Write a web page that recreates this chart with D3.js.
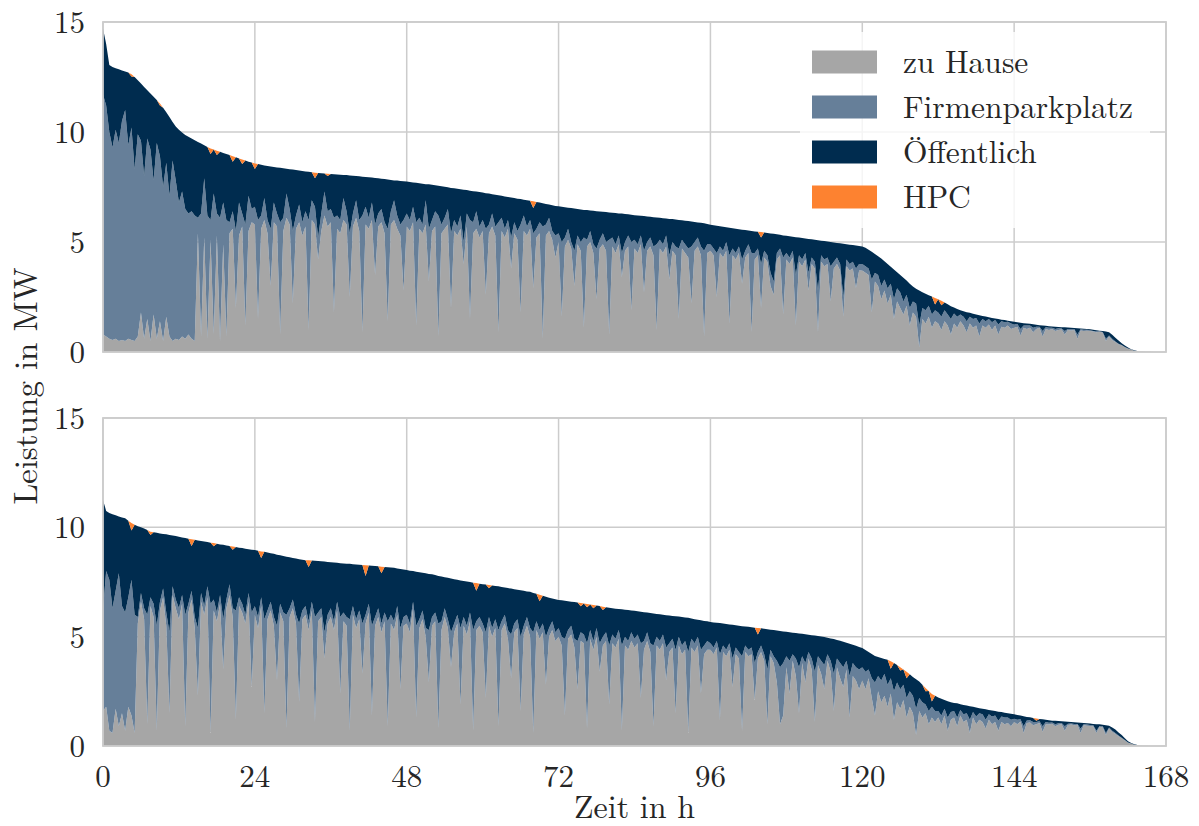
<!DOCTYPE html>
<html>
<head>
<meta charset="utf-8">
<script src="https://cdn.jsdelivr.net/npm/d3@7/dist/d3.min.js"></script>
<style>
  body { margin: 0; background: #fff; }
</style>
</head>
<body>
<svg id="chart" width="1199" height="826"></svg>
<script>
// Ladeprofile (geordnete Dauerlinie) je Ladeort, Auflösung 0,5 h, 0 … 168 h
const kategorien = ["zu Hause", "Firmenparkplatz", "Öffentlich", "HPC"];
const farben = ["#a6a6a6", "#667f99", "#002c4f", "#fd8230"];
const xTicks = [0, 24, 48, 72, 96, 120, 144, 168];
const yTicks = [0, 5, 10, 15];
const schritt = 0.5;
const schrift = "'Latin Modern Roman', 'Liberation Serif', serif";

// ---- oberes Diagramm ----
const gesamtOben = [
  14.7, 14.0, 13.05, 12.95, 12.9, 12.85, 12.8, 12.75, 12.7, 12.62, 12.5, 12.35, 12.2, 12.05, 11.9, 11.75, 11.6, 11.45, 11.3, 11.1, 10.9, 10.68, 10.45, 10.25,
  10.1, 9.98, 9.86, 9.78, 9.7, 9.62, 9.55, 9.48, 9.4, 9.32, 9.25, 9.2, 9.15, 9.1, 9.05, 9.0, 8.95, 8.9, 8.85, 8.8, 8.75, 8.7, 8.65, 8.61,
  8.57, 8.54, 8.51, 8.48, 8.45, 8.43, 8.41, 8.39, 8.37, 8.35, 8.33, 8.31, 8.29, 8.27, 8.25, 8.23, 8.21, 8.19, 8.17, 8.15, 8.14, 8.12, 8.11, 8.1,
  8.09, 8.08, 8.07, 8.06, 8.05, 8.04, 8.02, 8.01, 8.0, 7.99, 7.97, 7.96, 7.94, 7.93, 7.91, 7.9, 7.88, 7.86, 7.84, 7.82, 7.8, 7.79, 7.77, 7.76,
  7.75, 7.73, 7.71, 7.69, 7.67, 7.65, 7.63, 7.62, 7.6, 7.58, 7.56, 7.53, 7.51, 7.49, 7.46, 7.44, 7.42, 7.4, 7.38, 7.36, 7.33, 7.31, 7.29, 7.27,
  7.25, 7.22, 7.2, 7.17, 7.15, 7.12, 7.1, 7.07, 7.05, 7.02, 7.0, 6.97, 6.95, 6.92, 6.9, 6.87, 6.85, 6.82, 6.79, 6.76, 6.73, 6.7, 6.67, 6.64,
  6.62, 6.6, 6.58, 6.56, 6.54, 6.52, 6.5, 6.48, 6.46, 6.45, 6.43, 6.42, 6.4, 6.39, 6.37, 6.36, 6.34, 6.33, 6.32, 6.3, 6.29, 6.27, 6.26, 6.24,
  6.22, 6.21, 6.19, 6.18, 6.16, 6.15, 6.13, 6.11, 6.1, 6.08, 6.07, 6.05, 6.04, 6.02, 6.0, 5.99, 5.97, 5.95, 5.93, 5.91, 5.89, 5.87, 5.85, 5.82,
  5.78, 5.76, 5.74, 5.72, 5.69, 5.67, 5.65, 5.63, 5.6, 5.58, 5.56, 5.54, 5.52, 5.5, 5.48, 5.47, 5.45, 5.43, 5.41, 5.39, 5.37, 5.35, 5.33, 5.3,
  5.28, 5.26, 5.24, 5.22, 5.2, 5.18, 5.16, 5.14, 5.12, 5.1, 5.08, 5.06, 5.04, 5.02, 5.0, 4.98, 4.96, 4.94, 4.92, 4.9, 4.88, 4.86, 4.84, 4.82,
  4.8, 4.74, 4.65, 4.56, 4.45, 4.35, 4.25, 4.12, 4.0, 3.88, 3.75, 3.62, 3.5, 3.38, 3.25, 3.1, 2.98, 2.88, 2.8, 2.72, 2.65, 2.58, 2.52, 2.46,
  2.4, 2.33, 2.25, 2.17, 2.08, 2.02, 1.95, 1.9, 1.85, 1.81, 1.78, 1.74, 1.7, 1.67, 1.64, 1.61, 1.58, 1.55, 1.52, 1.5, 1.47, 1.45, 1.42, 1.4,
  1.37, 1.35, 1.33, 1.31, 1.3, 1.28, 1.26, 1.24, 1.22, 1.2, 1.19, 1.17, 1.16, 1.15, 1.14, 1.13, 1.12, 1.11, 1.1, 1.09, 1.08, 1.07, 1.06, 1.05,
  1.03, 1.01, 0.99, 0.97, 0.96, 0.93, 0.9, 0.78, 0.65, 0.52, 0.4, 0.3, 0.2, 0.13, 0.08, 0.05, 0.03, 0.02, 0.01, 0.01, 0, 0, 0, 0,
  0
];
const zuHauseOben = [
  0.8, 0.7, 0.6, 0.55, 0.6, 0.5, 0.55, 0.5, 0.6, 0.55, 0.5, 0.7, 1.8, 0.6, 1.5, 0.5, 1.7, 0.6, 1.4, 0.5, 1.6, 0.7, 0.5, 0.6,
  0.55, 0.7, 0.6, 0.8, 0.6, 0.5, 5.4, 0.7, 5.2, 0.6, 5.1, 0.8, 5.3, 0.5, 4.9, 0.7, 5.4, 5.6, 2.0, 5.3, 5.7, 1.2, 5.5, 5.9,
  5.8, 1.5, 5.6, 6.0, 5.4, 3.0, 5.9, 5.7, 0.8, 5.5, 6.1, 5.8, 2.2, 5.6, 5.9, 5.3, 5.7, 1.0, 6.0, 5.8, 4.2, 5.5, 6.2, 5.7,
  5.9, 1.8, 5.6, 5.4, 6.0, 5.8, 2.5, 5.7, 6.1, 5.5, 0.9, 5.8, 5.6, 6.0, 3.5, 5.7, 5.9, 5.4, 1.4, 5.8, 6.0, 5.6, 5.3, 2.8,
  5.7, 5.5, 5.9, 1.2, 5.6, 5.4, 5.8, 3.2, 5.5, 5.7, 0.7, 5.4, 5.6, 5.8, 2.0, 5.5, 5.3, 5.6, 4.0, 5.7, 1.5, 5.4, 5.6, 5.2,
  5.5, 2.6, 5.4, 5.7, 5.3, 0.9, 5.5, 5.2, 5.6, 3.8, 5.4, 5.1, 1.8, 5.5, 5.3, 5.6, 2.9, 5.2, 5.4, 0.6, 5.3, 5.5, 5.1, 4.3,
  5.0, 1.6, 4.8, 5.1, 4.7, 3.0, 4.9, 4.6, 1.1, 4.8, 5.0, 4.5, 2.4, 4.7, 4.9, 4.6, 0.8, 4.8, 4.5, 4.9, 3.4, 4.6, 4.8, 1.9,
  4.7, 4.5, 4.9, 2.7, 4.6, 4.8, 4.4, 1.0, 4.7, 4.5, 4.8, 3.3, 4.6, 4.4, 1.5, 4.7, 4.5, 4.3, 2.2, 4.6, 4.8, 4.4, 0.7, 4.5,
  4.6, 4.4, 2.5, 4.5, 4.3, 4.6, 1.3, 4.4, 4.2, 4.5, 3.1, 4.3, 4.5, 0.9, 4.2, 4.4, 2.0, 4.3, 4.1, 3.0, 2.6, 4.2, 4.4, 1.7,
  4.2, 4.0, 4.3, 1.2, 4.1, 3.9, 4.2, 2.8, 4.0, 3.8, 0.9, 4.1, 3.9, 4.0, 2.3, 3.8, 4.0, 3.7, 1.6, 3.9, 3.7, 3.8, 2.9, 3.7,
  3.7, 3.6, 3.5, 1.8, 3.2, 3.0, 2.4, 2.8, 2.2, 2.6, 1.5, 2.3, 2.0, 1.7, 2.1, 1.2, 1.8, 1.6, 0.2, 1.5, 1.3, 1.6, 1.1, 1.4,
  1.3, 1.0, 1.4, 1.2, 0.8, 1.3, 1.1, 1.4, 1.2, 0.9, 1.3, 1.1, 1.2, 0.7, 1.2, 1.1, 1.25, 1.0, 1.2, 0.8, 1.15, 1.1, 1.2, 1.05,
  1.1, 1.15, 0.75, 1.1, 1.05, 1.1, 0.9, 1.05, 1.1, 0.7, 1.05, 1.0, 1.05, 0.95, 1.0, 1.02, 0.8, 1.0, 0.98, 1.0, 0.6, 0.98, 0.95, 0.97,
  0.95, 0.93, 0.9, 0.92, 0.88, 0.5, 0.7, 0.55, 0.45, 0.35, 0.3, 0.22, 0.15, 0.1, 0.06, 0.04, 0.03, 0.02, 0.01, 0.01, 0, 0, 0, 0,
  0
];
const firmenOben = [
  10.9, 10.5, 9.4, 8.75, 9.5, 9.0, 9.95, 10.5, 8.8, 9.65, 7.8, 9.2, 7.8, 7.4, 8.2, 8.7, 6.1, 8.9, 7.5, 7.0, 7.0, 6.4, 8.2, 7.2,
  6.25, 6.6, 5.9, 5.5, 5.8, 5.7, 0.7, 5.6, 2.7, 5.6, 0.9, 6.4, 1.0, 5.6, 1.9, 5.3, 0.5, 0.8, 3.5, 1.5, 0.6, 4.6, 1.6, 0.6,
  0.8, 4.5, 0.6, 1.0, 0.6, 2.6, 0.9, 0.6, 5.1, 0.6, 1.1, 0.7, 3.3, 0.6, 0.8, 0.6, 0.7, 5.0, 0.9, 0.8, 1.0, 0.8, 1.1, 0.7,
  0.6, 4.3, 0.6, 0.6, 1.0, 0.6, 2.9, 0.6, 0.8, 0.5, 5.3, 0.8, 0.5, 0.8, 2.3, 0.6, 0.6, 0.5, 4.2, 0.6, 0.9, 0.6, 0.5, 3.2,
  0.6, 0.5, 0.7, 4.7, 0.5, 0.4, 1.1, 2.4, 0.5, 0.7, 5.5, 0.4, 0.5, 0.7, 3.4, 0.5, 0.4, 0.6, 1.0, 0.6, 4.5, 0.5, 0.8, 0.5,
  0.5, 3.0, 0.4, 0.6, 0.4, 5.0, 0.6, 0.4, 0.4, 1.4, 0.5, 0.4, 4.0, 0.7, 0.4, 0.4, 2.5, 0.4, 0.5, 5.1, 0.5, 0.6, 0.4, 1.0,
  0.4, 3.4, 0.4, 0.5, 0.3, 1.6, 0.4, 0.4, 4.1, 0.3, 0.5, 0.4, 2.3, 0.4, 0.5, 0.4, 4.3, 0.4, 0.4, 0.4, 1.1, 0.4, 0.5, 3.1,
  0.4, 0.4, 0.4, 1.9, 0.4, 0.4, 0.4, 3.9, 0.4, 0.4, 0.5, 1.1, 0.4, 0.4, 3.2, 0.4, 0.4, 0.4, 2.6, 0.4, 0.4, 0.4, 3.9, 0.4,
  0.3, 0.3, 2.0, 0.3, 0.3, 0.4, 3.1, 0.3, 0.3, 0.3, 1.1, 0.3, 0.4, 3.6, 0.3, 0.3, 2.0, 0.3, 0.3, 0.6, 0.6, 0.3, 0.3, 2.6,
  0.3, 0.3, 0.3, 2.3, 0.3, 0.3, 0.3, 0.8, 0.3, 0.3, 1.9, 0.3, 0.3, 0.3, 1.6, 0.3, 0.3, 0.3, 0.9, 0.3, 0.3, 0.3, 0.9, 0.3,
  0.3, 0.3, 0.3, 1.5, 0.4, 0.5, 0.6, 0.5, 0.7, 0.5, 0.9, 0.6, 0.7, 0.6, 0.5, 0.8, 0.5, 0.6, 1.0, 0.5, 0.6, 0.5, 0.6, 0.5,
  0.5, 0.6, 0.5, 0.5, 0.7, 0.45, 0.5, 0.3, 0.4, 0.5, 0.3, 0.4, 0.35, 0.6, 0.3, 0.3, 0.25, 0.35, 0.25, 0.45, 0.25, 0.25, 0.18, 0.25,
  0.15, 0.12, 0.3, 0.1, 0.15, 0.1, 0.2, 0.1, 0.05, 0.25, 0.08, 0.1, 0.05, 0.1, 0.08, 0.05, 0.15, 0.05, 0.06, 0.04, 0.2, 0.05, 0.06, 0.04,
  0.04, 0.03, 0.05, 0.02, 0.03, 0.1, 0.05, 0.05, 0.03, 0.02, 0.02, 0.01, 0.01, 0.01, 0, 0, 0, 0, 0, 0, 0, 0, 0, 0,
  0
];
const hpcZeitOben = [4.5, 9, 17, 18, 20.5, 22, 24, 33.5, 35.5, 68, 104, 131.5, 132.5];
const hpcOben     = [0.1, 0.1, 0.25, 0.2, 0.25, 0.2, 0.25, 0.25, 0.1, 0.3, 0.25, 0.3, 0.2];

// ---- unteres Diagramm ----
const gesamtUnten = [
  11.25, 10.75, 10.65, 10.6, 10.55, 10.5, 10.45, 10.42, 10.3, 10.2, 10.12, 10.05, 10.0, 9.95, 9.88, 9.8, 9.77, 9.75, 9.72, 9.7, 9.68, 9.65, 9.63, 9.6,
  9.57, 9.54, 9.51, 9.48, 9.45, 9.43, 9.4, 9.38, 9.35, 9.33, 9.3, 9.28, 9.25, 9.22, 9.2, 9.17, 9.15, 9.12, 9.1, 9.07, 9.05, 9.02, 9.0, 8.98,
  8.96, 8.93, 8.9, 8.88, 8.85, 8.82, 8.79, 8.75, 8.72, 8.69, 8.66, 8.63, 8.6, 8.57, 8.54, 8.52, 8.5, 8.49, 8.48, 8.47, 8.46, 8.45, 8.44, 8.42,
  8.4, 8.39, 8.38, 8.36, 8.35, 8.34, 8.33, 8.31, 8.3, 8.29, 8.28, 8.27, 8.26, 8.24, 8.23, 8.22, 8.2, 8.19, 8.18, 8.16, 8.15, 8.12, 8.1, 8.07,
  8.05, 8.02, 8.0, 7.97, 7.95, 7.92, 7.9, 7.87, 7.85, 7.82, 7.78, 7.75, 7.72, 7.69, 7.66, 7.63, 7.6, 7.57, 7.55, 7.52, 7.5, 7.47, 7.45, 7.42,
  7.4, 7.38, 7.36, 7.34, 7.32, 7.3, 7.27, 7.25, 7.22, 7.2, 7.17, 7.15, 7.12, 7.1, 7.07, 7.05, 7.0, 6.96, 6.92, 6.87, 6.82, 6.78, 6.75, 6.71,
  6.68, 6.66, 6.64, 6.62, 6.6, 6.58, 6.56, 6.54, 6.52, 6.49, 6.47, 6.45, 6.42, 6.4, 6.37, 6.35, 6.32, 6.3, 6.28, 6.27, 6.25, 6.23, 6.22, 6.2,
  6.18, 6.16, 6.14, 6.12, 6.1, 6.08, 6.06, 6.04, 6.02, 6.0, 5.98, 5.97, 5.95, 5.93, 5.92, 5.9, 5.88, 5.86, 5.83, 5.8, 5.77, 5.75, 5.72, 5.7,
  5.67, 5.65, 5.64, 5.62, 5.6, 5.58, 5.56, 5.54, 5.52, 5.5, 5.48, 5.47, 5.45, 5.43, 5.41, 5.4, 5.38, 5.36, 5.34, 5.32, 5.3, 5.28, 5.26, 5.24,
  5.22, 5.2, 5.18, 5.17, 5.15, 5.13, 5.11, 5.09, 5.07, 5.05, 5.03, 5.01, 4.98, 4.95, 4.92, 4.89, 4.85, 4.81, 4.77, 4.72, 4.68, 4.63, 4.58, 4.53,
  4.48, 4.39, 4.3, 4.21, 4.12, 4.07, 4.02, 3.98, 3.95, 3.88, 3.8, 3.7, 3.6, 3.5, 3.4, 3.28, 3.16, 3.05, 2.95, 2.8, 2.65, 2.52, 2.38, 2.3,
  2.22, 2.16, 2.1, 2.05, 2.0, 1.97, 1.95, 1.91, 1.88, 1.85, 1.82, 1.79, 1.76, 1.73, 1.7, 1.68, 1.65, 1.62, 1.6, 1.57, 1.55, 1.52, 1.5, 1.47,
  1.45, 1.42, 1.39, 1.36, 1.33, 1.31, 1.28, 1.26, 1.24, 1.22, 1.2, 1.18, 1.16, 1.15, 1.14, 1.13, 1.12, 1.11, 1.1, 1.09, 1.07, 1.06, 1.05, 1.04,
  1.03, 1.01, 1.0, 0.99, 0.97, 0.95, 0.93, 0.85, 0.75, 0.62, 0.5, 0.35, 0.22, 0.14, 0.08, 0.05, 0.02, 0.01, 0.01, 0, 0, 0, 0, 0,
  0
];
const zuHauseUnten = [
  1.6, 1.8, 0.7, 0.6, 1.7, 0.9, 1.5, 0.7, 1.8, 1.4, 0.6, 5.6, 6.6, 5.8, 1.0, 6.4, 5.9, 0.7, 6.2, 6.8, 5.5, 1.5, 6.9, 6.3,
  5.8, 6.5, 0.9, 6.1, 6.7, 5.4, 2.3, 6.6, 6.0, 6.8, 0.6, 6.2, 5.7, 6.5, 3.5, 6.3, 6.9, 5.9, 1.2, 6.4, 6.1, 5.6, 6.6, 2.7,
  6.0, 5.4, 6.4, 1.5, 5.8, 6.2, 5.5, 3.0, 6.1, 5.7, 0.8, 5.9, 6.3, 5.6, 2.0, 5.8, 6.0, 5.3, 6.2, 1.1, 5.7, 5.9, 4.0, 5.6,
  5.9, 5.3, 6.2, 2.4, 5.7, 5.5, 0.7, 6.0, 5.4, 5.8, 3.3, 5.6, 6.1, 1.4, 5.5, 5.9, 5.2, 5.7, 0.9, 5.6, 5.3, 6.0, 2.6, 5.5,
  5.6, 5.2, 6.3, 1.3, 5.4, 5.8, 5.0, 2.9, 5.5, 5.7, 0.8, 5.3, 5.9, 5.4, 3.6, 5.2, 5.6, 1.9, 5.5, 5.1, 5.7, 0.7, 5.3, 5.5,
  5.2, 2.2, 5.5, 5.0, 5.4, 0.9, 5.3, 5.6, 4.9, 3.1, 5.2, 5.4, 1.6, 5.1, 5.5, 5.0, 0.6, 5.3, 4.9, 5.2, 2.8, 5.0, 5.3, 4.8,
  5.0, 4.6, 1.4, 4.9, 5.1, 4.5, 2.6, 4.8, 4.7, 0.8, 4.9, 4.4, 5.0, 3.4, 4.6, 4.8, 1.9, 4.7, 4.5, 4.9, 0.7, 4.6, 4.4, 4.8,
  4.5, 4.7, 2.2, 4.4, 4.8, 4.3, 0.9, 4.6, 4.4, 4.7, 3.0, 4.3, 4.5, 1.5, 4.6, 4.2, 4.4, 0.6, 4.5, 4.3, 4.6, 2.4, 4.2, 4.4,
  4.4, 4.2, 4.5, 1.2, 4.3, 4.1, 4.4, 2.7, 4.2, 4.0, 0.7, 4.3, 4.1, 4.2, 2.1, 4.0, 4.3, 3.9, 1.0, 4.1, 3.8, 2.9, 1.0, 1.4,
  3.6, 2.4, 3.9, 3.2, 1.5, 3.8, 2.9, 4.0, 3.5, 1.1, 3.7, 3.3, 2.6, 3.9, 3.4, 1.6, 3.6, 3.1, 2.7, 3.5, 1.3, 3.2, 3.0, 2.6,
  3.0, 2.6, 3.1, 2.2, 1.4, 2.5, 2.0, 2.3, 1.8, 2.4, 1.2, 2.0, 1.7, 2.1, 1.3, 1.8, 1.5, 0.5, 1.6, 1.3, 1.5, 1.0, 1.3, 1.1,
  1.3, 1.0, 1.4, 0.7, 1.2, 1.3, 0.9, 1.4, 1.1, 1.2, 0.6, 1.3, 1.0, 1.2, 1.1, 0.8, 1.2, 1.0, 1.1, 0.7, 1.1, 1.0, 1.05, 0.9,
  1.1, 1.0, 1.12, 0.6, 1.05, 1.08, 0.95, 1.0, 1.05, 0.65, 1.0, 0.98, 1.02, 0.9, 0.97, 1.0, 0.7, 0.96, 0.98, 0.95, 0.97, 0.6, 0.95, 0.93,
  0.92, 0.9, 0.6, 0.88, 0.85, 0.5, 0.8, 0.65, 0.55, 0.45, 0.35, 0.25, 0.15, 0.1, 0.06, 0.04, 0.02, 0.01, 0.01, 0, 0, 0, 0, 0,
  0
];
const firmenUnten = [
  4.6, 6.2, 6.9, 5.7, 5.4, 7.0, 4.9, 5.4, 5.0, 6.2, 5.4, 0.3, 0.4, 0.5, 5.0, 0.4, 0.6, 4.8, 0.4, 0.4, 0.6, 3.7, 0.4, 0.4,
  0.5, 0.4, 5.1, 0.4, 0.4, 0.5, 3.1, 0.4, 0.4, 0.5, 5.9, 0.5, 0.4, 0.4, 2.3, 0.4, 0.5, 0.4, 5.0, 0.4, 0.4, 0.4, 0.4, 3.4,
  0.4, 0.5, 0.4, 4.3, 0.4, 0.4, 0.4, 2.5, 0.4, 0.4, 5.2, 0.4, 0.4, 0.4, 3.6, 0.4, 0.4, 0.4, 0.4, 4.8, 0.4, 0.4, 1.2, 0.4,
  0.4, 0.4, 0.4, 3.5, 0.4, 0.4, 5.1, 0.4, 0.4, 0.4, 2.3, 0.4, 0.4, 4.1, 0.4, 0.4, 0.4, 0.4, 4.8, 0.4, 0.4, 0.4, 2.8, 0.4,
  0.4, 0.4, 0.3, 4.2, 0.4, 0.4, 0.4, 2.4, 0.4, 0.4, 4.8, 0.4, 0.4, 0.4, 1.6, 0.4, 0.4, 3.5, 0.4, 0.4, 0.4, 4.6, 0.4, 0.4,
  0.4, 3.0, 0.4, 0.4, 0.4, 4.4, 0.4, 0.4, 0.4, 2.0, 0.4, 0.4, 3.4, 0.4, 0.4, 0.4, 4.6, 0.4, 0.4, 0.4, 2.2, 0.4, 0.4, 0.4,
  0.4, 0.4, 3.5, 0.4, 0.4, 0.4, 2.2, 0.4, 0.4, 3.9, 0.4, 0.4, 0.4, 1.3, 0.4, 0.4, 2.7, 0.4, 0.4, 0.4, 3.9, 0.4, 0.4, 0.4,
  0.4, 0.4, 2.5, 0.4, 0.4, 0.4, 3.7, 0.4, 0.4, 0.4, 1.5, 0.4, 0.4, 2.9, 0.4, 0.4, 0.4, 3.7, 0.4, 0.4, 0.4, 2.0, 0.4, 0.4,
  0.3, 0.3, 0.3, 3.0, 0.3, 0.3, 0.3, 1.3, 0.3, 0.3, 3.4, 0.3, 0.3, 0.3, 1.7, 0.3, 0.3, 0.3, 2.5, 0.3, 0.3, 1.0, 2.6, 2.4,
  0.5, 1.5, 0.3, 0.8, 2.1, 0.3, 0.9, 0.3, 0.5, 2.3, 0.4, 0.6, 1.1, 0.3, 0.5, 1.7, 0.4, 0.7, 0.9, 0.4, 1.9, 0.6, 0.6, 0.9,
  0.6, 0.8, 0.4, 0.9, 1.5, 0.7, 1.0, 1.0, 1.0, 0.7, 1.3, 0.9, 0.9, 0.7, 0.9, 0.7, 0.8, 1.2, 0.6, 0.7, 0.4, 0.6, 0.5, 0.5,
  0.3, 0.4, 0.3, 0.6, 0.35, 0.3, 0.4, 0.25, 0.35, 0.3, 0.6, 0.25, 0.35, 0.3, 0.35, 0.4, 0.25, 0.35, 0.3, 0.45, 0.25, 0.3, 0.25, 0.3,
  0.15, 0.2, 0.1, 0.3, 0.12, 0.1, 0.15, 0.1, 0.08, 0.25, 0.1, 0.08, 0.06, 0.1, 0.07, 0.05, 0.2, 0.06, 0.05, 0.06, 0.04, 0.2, 0.04, 0.05,
  0.04, 0.05, 0.1, 0.04, 0.05, 0.1, 0.05, 0.05, 0.04, 0.03, 0.03, 0.02, 0.01, 0.01, 0, 0, 0, 0, 0, 0, 0, 0, 0, 0,
  0
];
const hpcZeitUnten = [4.5, 7.5, 14, 17.5, 20.5, 25, 32.5, 41.5, 44, 59, 61, 69, 75.5, 76.5, 77.5, 79, 103.5, 124.5, 126, 127, 130, 131, 147.5];
const hpcUnten     = [0.35, 0.15, 0.3, 0.15, 0.15, 0.3, 0.3, 0.5, 0.3, 0.35, 0.15, 0.3, 0.15, 0.15, 0.15, 0.15, 0.3, 0.35, 0.15, 0.3, 0.15, 0.35, 0.1];

// Tabelle je Diagramm: Öffentlich ist der Rest bis zur Gesamtleistung
function tabelle(gesamt, haus, firma, hpcZeit, hpcWert) {
  return gesamt.map((g, i) => {
    const t = i * schritt;
    const k = hpcZeit.indexOf(t);
    const hpc = k >= 0 ? hpcWert[k] : 0;
    return {
      t,
      "zu Hause": haus[i],
      "Firmenparkplatz": firma[i],
      "Öffentlich": Math.max(0, g - haus[i] - firma[i] - hpc),
      "HPC": hpc
    };
  });
}

const svg = d3.select("#chart");
const links = 103, rechts = 1166;
const x = d3.scaleLinear().domain([0, 168]).range([links, rechts]);
const gitter = "#cccccc";

function schreib(sel) {
  return sel.attr("font-family", schrift).attr("fill", "#262626");
}

const panels = [
  { oben: 22, unten: 352, daten: tabelle(gesamtOben, zuHauseOben, firmenOben, hpcZeitOben, hpcOben), legende: true, xAchse: false },
  { oben: 418, unten: 746, daten: tabelle(gesamtUnten, zuHauseUnten, firmenUnten, hpcZeitUnten, hpcUnten), legende: false, xAchse: true }
];

panels.forEach(p => {
  const y = d3.scaleLinear().domain([0, 15]).range([p.unten, p.oben]);
  const g = svg.append("g");

  // Gitter
  g.selectAll(".gx").data(xTicks).join("line")
    .attr("x1", d => x(d)).attr("x2", d => x(d))
    .attr("y1", p.oben).attr("y2", p.unten)
    .attr("stroke", gitter).attr("stroke-width", 1.5);
  g.selectAll(".gy").data(yTicks).join("line")
    .attr("x1", links).attr("x2", rechts)
    .attr("y1", d => y(d)).attr("y2", d => y(d))
    .attr("stroke", gitter).attr("stroke-width", 1.5);

  // gestapelte Flächen
  const stapel = d3.stack().keys(kategorien)(p.daten);
  const flaeche = d3.area()
    .x(d => x(d.data.t))
    .y0(d => y(d[0]))
    .y1(d => y(d[1]))
    .curve(d3.curveLinear);
  g.selectAll(".schicht").data(stapel).join("path")
    .attr("d", flaeche)
    .attr("fill", (d, i) => farben[i]);

  // Rahmen
  g.append("rect")
    .attr("x", links).attr("y", p.oben)
    .attr("width", rechts - links).attr("height", p.unten - p.oben)
    .attr("fill", "none").attr("stroke", gitter).attr("stroke-width", 1.8);

  // y-Beschriftung
  g.selectAll(".yl").data(yTicks).join("text")
    .call(schreib)
    .attr("x", 85).attr("y", d => y(d) + 11)
    .attr("text-anchor", "end")
    .attr("font-size", 31)
    .text(d => d);

  if (p.xAchse) {
    g.selectAll(".xl").data(xTicks).join("text")
      .call(schreib)
      .attr("x", d => x(d)).attr("y", p.unten + 41)
      .attr("text-anchor", "middle")
      .attr("font-size", 31)
      .text(d => d);
    g.append("text")
      .call(schreib)
      .attr("x", (links + rechts) / 2).attr("y", 818)
      .attr("text-anchor", "middle")
      .attr("font-size", 32)
      .text("Zeit in h");
  }

  if (p.legende) {
    const lg = g.append("g");
    lg.append("rect")
      .attr("x", 800).attr("y", 32).attr("width", 350).attr("height", 196)
      .attr("rx", 3)
      .attr("fill", "#ffffff").attr("fill-opacity", 0.8);
    kategorien.forEach((k, i) => {
      const cy = 62 + i * 45;
      lg.append("rect")
        .attr("x", 812).attr("y", cy - 11.5).attr("width", 65).attr("height", 23)
        .attr("fill", farben[i]);
      lg.append("text")
        .call(schreib)
        .attr("x", 903).attr("y", cy + 11)
        .attr("font-size", 31.5)
        .text(k);
    });
  }
});

// gemeinsame y-Achsenbeschriftung
svg.append("text")
  .call(schreib)
  .attr("transform", "translate(37,386) rotate(-90)")
  .attr("text-anchor", "middle")
  .attr("font-size", 33)
  .text("Leistung in MW");
</script>
</body>
</html>
